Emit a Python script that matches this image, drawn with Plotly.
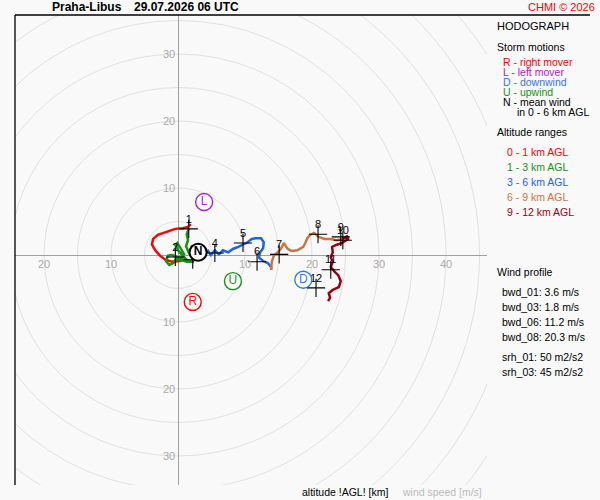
import plotly.graph_objects as go

# ---------------- data (m/s) ----------------
u_0_1 = [1.2, 0.3, -0.9, -1.9, -2.7, -3.4, -3.9, -3.7, -3.0, -1.8, -0.4, 0.7, 1.5, 1.9]
v_0_1 = [-0.6, -0.9, -1.0, -0.7, -0.1, 0.7, 1.6, 2.4, 3.0, 3.4, 3.9, 4.0, 4.2, 4.6]

u_1_3 = [1.6, 1.3, 1.5, 1.2, 1.6, 2.1, 2.2, 1.5, 0.7, 0.0, -0.4, -0.1, 0.4, 0.9, 0.6,
         -0.1, -0.9, -1.5, -1.8, -1.3, -0.7, -0.3, 0.4, 1.3, 2.2]
v_1_3 = [3.9, 3.1, 2.2, 1.3, 0.4, -0.4, -1.0, -0.9, -0.1, 0.7, 1.5, 1.8, 1.0, 0.1, -0.4,
         -0.3, 0.0, -0.1, -0.9, -1.5, -1.2, -0.6, -0.7, -1.0, -0.9]

u_3_6 = [2.2, 3.0, 3.9, 4.5, 4.9, 5.5, 6.1, 6.7, 7.5, 8.2, 9.0, 9.7, 10.4, 11.0, 11.6,
         12.4, 12.8, 12.7, 12.2, 12.1, 12.7, 13.4, 13.9, 13.9]
v_3_6 = [-0.9, -0.1, 0.0, 0.6, 0.0, 0.7, 0.1, 0.7, 0.4, 0.9, 1.2, 1.5, 1.9, 2.4, 2.5,
         2.5, 1.9, 1.0, 0.3, -0.4, -0.9, -1.2, -1.8, -2.2]

u_6_9 = [13.9, 14.0, 14.3, 14.9, 15.4, 15.8, 16.3, 16.9, 17.8, 18.7, 19.0, 19.3, 19.7,
         20.3, 21.0, 21.9, 22.8, 23.7, 24.6]
v_6_9 = [-2.2, -1.0, -0.1, 0.4, 1.0, 1.8, 1.0, 0.6, 0.7, 1.2, 1.8, 2.5, 3.0,
         3.3, 2.7, 2.4, 2.4, 2.2, 2.4]

u_9_12 = [24.6, 25.2, 25.4, 24.5, 23.6, 23.0, 23.1, 22.8, 23.1, 22.8, 23.3, 23.9, 24.3,
          24.0, 23.1, 22.5, 22.7, 22.4]
v_9_12 = [2.4, 2.8, 2.4, 1.8, 1.5, 1.2, 0.4, -0.3, -1.0, -1.8, -2.4, -3.0, -3.9,
          -4.8, -5.2, -5.7, -6.4, -6.9]

km_labels = ["1", "2", "3", "4", "5", "6", "7", "8", "9", "10", "11", "12"]
km_u = [1.6, -0.4, 2.2, 5.5, 9.7, 11.8, 15.1, 20.9, 24.3, 24.6, 22.8, 20.6]
km_v = [3.9, -0.3, -0.7, 0.3, 1.8, -1.0, 0.1, 3.1, 2.7, 2.2, -2.2, -4.9]

storm_labels = ["R", "L", "D", "U", "N"]
storm_u = [2.2, 3.9, 18.7, 8.2, 3.0]
storm_v = [-7.0, 7.9, -3.7, -3.9, 0.4]

ring_radii = [5, 10, 15, 20, 25, 30, 35, 40, 45, 50, 55, 60]
ring_labels = [10, 20, 30, 40]

legend_storm = ["R - right mover", "L - left mover", "D - downwind", "U - upwind", "N - mean wind"]
legend_alt = ["0 - 1 km AGL", "1 - 3 km AGL", "3 - 6 km AGL", "6 - 9 km AGL", "9 - 12 km AGL"]
profile_lines = ["bwd_01: 3.6 m/s", "bwd_03: 1.8 m/s", "bwd_06: 11.2 m/s", "bwd_08: 20.3 m/s"]
srh_lines = ["srh_01: 50 m2/s2", "srh_03: 45 m2/s2"]

# ---------------- styles ----------------
FONT = "Liberation Sans, Arial, sans-serif"
C_RED = "#ff0000"
C_GREEN = "#149414"
C_BLUE = "#1f63e0"
C_ORANGE = "#cc7442"
C_DRED = "#990011"
C_PURPLE = "#aa22cc"
C_D = "#3377ee"
alt_colors = [C_RED, C_GREEN, C_BLUE, C_ORANGE, C_DRED]
storm_colors = [C_RED, C_PURPLE, C_D, C_GREEN, "#000000"]
BG = "#f9f9f9"

W, H = 600, 500
PX_L, PX_R, PX_T, PX_B = 15, 487, 15, 485
X0, Y0 = 178, 255
SCALE = 6.7  # px per m/s
x_range = [(PX_L - X0) / SCALE, (PX_R - X0) / SCALE]
y_range = [-(PX_B - Y0) / SCALE, (Y0 - PX_T) / SCALE]

fig = go.Figure()

segments = [(u_0_1, v_0_1), (u_1_3, v_1_3), (u_3_6, v_3_6), (u_6_9, v_6_9), (u_9_12, v_9_12)]
for (uu, vv), col in zip(segments, alt_colors):
    fig.add_trace(go.Scatter(x=uu, y=vv, mode="lines",
                             line=dict(color=col, width=2.5), hoverinfo="skip"))

# km markers
fig.add_trace(go.Scatter(x=km_u, y=km_v, mode="markers",
                         marker=dict(symbol="cross-thin", size=13,
                                     line=dict(color="#000000", width=1.1)),
                         hoverinfo="skip"))
fig.add_trace(go.Scatter(x=km_u, y=[v + 9 / SCALE for v in km_v], mode="text",
                         text=km_labels, textposition="middle center",
                         textfont=dict(family=FONT, size=11, color="#000000"),
                         hoverinfo="skip"))

# storm motion markers
for lab, uu, vv, col in zip(storm_labels, storm_u, storm_v, storm_colors):
    bold = lab == "N"
    fig.add_trace(go.Scatter(x=[uu], y=[vv], mode="markers+text", text=[f"<b>{lab}</b>" if bold else lab],
                             textposition="middle center",
                             marker=dict(symbol="circle", size=17, color="#ffffff",
                                         line=dict(color=col, width=2 if bold else 1.4)),
                             textfont=dict(family=FONT, size=12, color=col),
                             hoverinfo="skip"))

# rings
shapes = []
for r in ring_radii:
    shapes.append(dict(type="circle", xref="x", yref="y", x0=-r, x1=r, y0=-r, y1=r,
                       line=dict(color="#e0e0e0", width=1), layer="below"))
# frame lines
shapes.append(dict(type="line", xref="paper", yref="paper", x0=PX_L / W, x1=590 / W,
                   y0=1 - PX_T / H, y1=1 - PX_T / H, line=dict(color="#000000", width=1.3)))
shapes.append(dict(type="line", xref="paper", yref="paper", x0=PX_L / W, x1=PX_L / W,
                   y0=1 - PX_T / H, y1=1 - PX_B / H, line=dict(color="#000000", width=1.3)))

ann = []
# axis labels
for r in ring_labels:
    for s in (-1, 1):
        if s * r > x_range[0] and s * r < x_range[1]:
            ann.append(dict(x=s * r, y=0, xref="x", yref="y", text=str(r), showarrow=False,
                            yshift=-9, font=dict(family=FONT, size=11, color="#aaaaaa")))
        if s * r > y_range[0] and s * r < y_range[1]:
            ann.append(dict(x=0, y=s * r, xref="x", yref="y", text=str(r), showarrow=False,
                            xanchor="right", xshift=-1, font=dict(family=FONT, size=11, color="#aaaaaa")))


def txt(x, y, s, size=10.5, color="#000000", anchor="left", bold=False):
    ann.append(dict(x=x / W, y=1 - y / H, xref="paper", yref="paper",
                    text=f"<b>{s}</b>" if bold else s, showarrow=False,
                    xanchor=anchor, yanchor="middle",
                    font=dict(family=FONT, size=size, color=color)))


txt(50, 7, "Praha-Libus", size=12, bold=True)
txt(132, 7, "29.07.2026 06 UTC", size=12, bold=True)
txt(597, 7, "CHMI © 2026", size=11, color=C_RED, anchor="right")
txt(495, 26, "HODOGRAPH", size=11)
txt(495, 47, "Storm motions", size=10.5)
for i, (s, col) in enumerate(zip(legend_storm, storm_colors)):
    txt(501, 62 + 10 * i, s, size=10.5, color=col)
txt(515, 112, "in 0 - 6 km AGL", size=10.5)
txt(495, 132, "Altitude ranges", size=10.5)
for i, (s, col) in enumerate(zip(legend_alt, alt_colors)):
    txt(505, 152 + 15 * i, s, size=10.5, color=col)
txt(495, 272, "Wind profile", size=10.5)
for i, s in enumerate(profile_lines):
    txt(500, 292 + 15 * i, s, size=10.5)
for i, s in enumerate(srh_lines):
    txt(500, 357 + 15 * i, s, size=10.5)
txt(300, 492, "altitude !AGL! [km]", size=10.5)
txt(400, 492, "wind speed [m/s]", size=10.5, color="#bbbbbb")

fig.update_layout(
    width=W, height=H, margin=dict(l=0, r=0, t=0, b=0),
    paper_bgcolor=BG, plot_bgcolor=BG, showlegend=False,
    shapes=shapes, annotations=ann,
    xaxis=dict(domain=[PX_L / W, PX_R / W], range=x_range, showgrid=False,
               zeroline=True, zerolinecolor="#a0a0a0", zerolinewidth=1.3,
               showticklabels=False, ticks="", fixedrange=True),
    yaxis=dict(domain=[1 - PX_B / H, 1 - PX_T / H], range=y_range, showgrid=False,
               zeroline=True, zerolinecolor="#a0a0a0", zerolinewidth=1.3,
               showticklabels=False, ticks="", fixedrange=True),
)

fig.write_html("out.html", config={"displayModeBar": False},
               post_script="document.body.style.margin='0px';document.body.style.background='#f9f9f9';")
